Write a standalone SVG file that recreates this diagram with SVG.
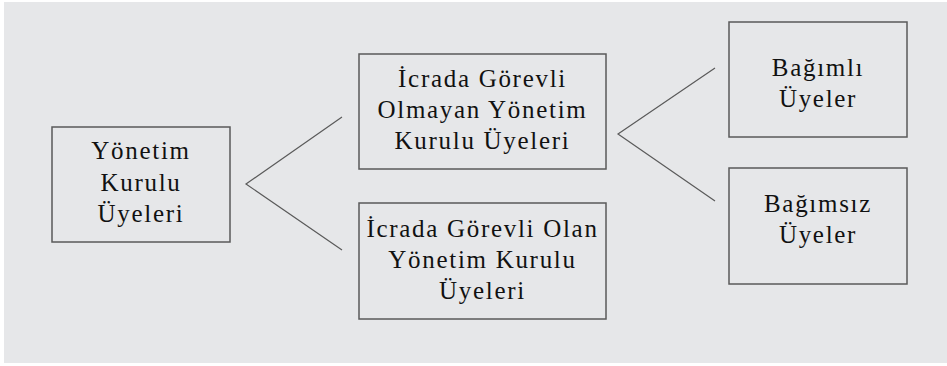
<svg xmlns="http://www.w3.org/2000/svg" width="947" height="366" viewBox="0 0 947 366">
<style>
.box{fill:none;stroke:#5a5a5a;stroke-width:1.5}
.ln{fill:none;stroke:#5a5a5a;stroke-width:1.2}
text{font-family:"Liberation Serif","Times New Roman",serif;font-size:25px;fill:#111;text-anchor:middle;letter-spacing:1.7px}
</style>
<rect x="4" y="2" width="943" height="361" fill="#e6e7e9"/>
<g id="connectors">
<polyline class="ln" points="342,117 246,184 342,250"/>
<polyline class="ln" points="715,68 618,134 715,201"/>
</g>
<g id="n-root">
<rect class="box" x="52" y="127" width="178" height="115"/>
<text x="141" y="159">Yönetim</text>
<text x="141" y="191">Kurulu</text>
<text x="141" y="222">Üyeleri</text>
</g>
<g id="n-nonexec">
<rect class="box" x="359" y="54" width="247" height="115"/>
<text x="482.5" y="87">İcrada Görevli</text>
<text x="482.5" y="118">Olmayan Yönetim</text>
<text x="482.5" y="149">Kurulu Üyeleri</text>
</g>
<g id="n-exec">
<rect class="box" x="359" y="203" width="247" height="116"/>
<text x="482.5" y="237">İcrada Görevli Olan</text>
<text x="482.5" y="268">Yönetim Kurulu</text>
<text x="482.5" y="299">Üyeleri</text>
</g>
<g id="n-dep">
<rect class="box" x="729" y="22" width="178" height="115"/>
<text x="818" y="76">Bağımlı</text>
<text x="818" y="107">Üyeler</text>
</g>
<g id="n-indep">
<rect class="box" x="729" y="168" width="178" height="116"/>
<text x="818" y="212">Bağımsız</text>
<text x="818" y="243">Üyeler</text>
</g>
</svg>
